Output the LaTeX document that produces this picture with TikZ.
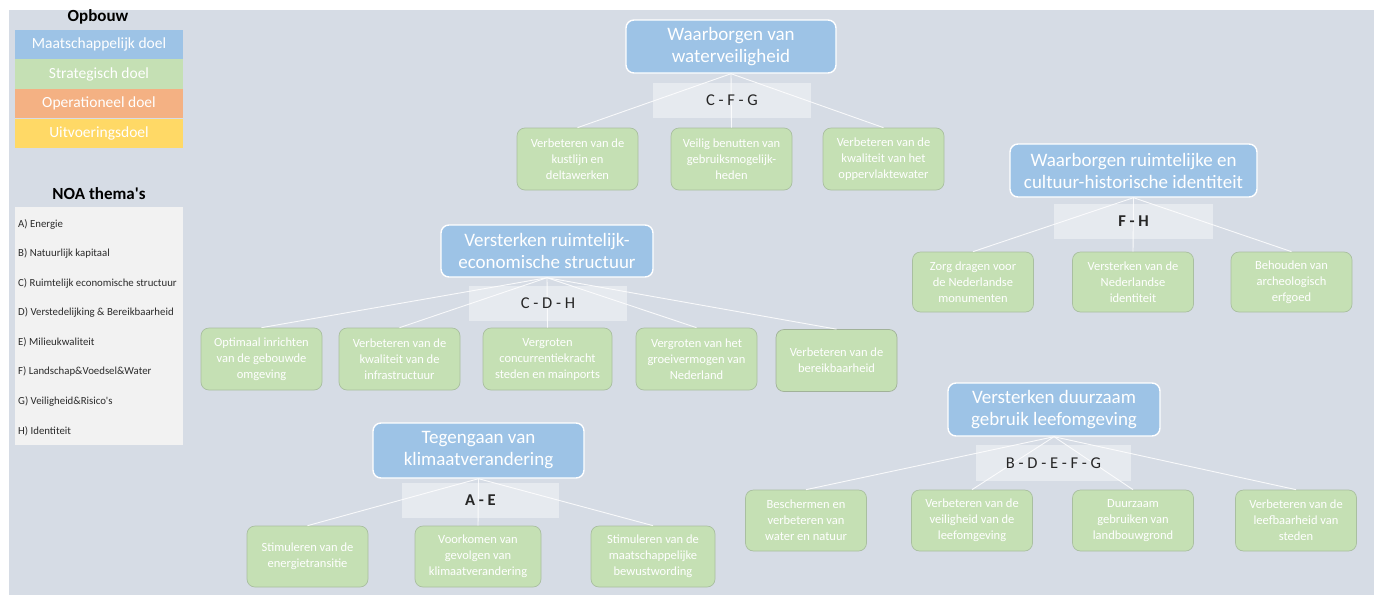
\documentclass[tikz,border=0pt]{standalone}
\usepackage{fontspec}
\setmainfont{Carlito}[Ligatures=TeXOff]
\definecolor{bgcol}{HTML}{D6DCE5}
\definecolor{goalblue}{HTML}{9DC3E6}
\definecolor{subgreen}{HTML}{C5E0B4}
\definecolor{subedge}{HTML}{A9BFA0}
\definecolor{oporange}{HTML}{F4B183}
\definecolor{execyellow}{HTML}{FFD966}
\definecolor{listgray}{HTML}{F2F2F2}
\definecolor{tagtext}{HTML}{262626}
\definecolor{listtext}{HTML}{2B2B2B}
\begin{document}
\begin{tikzpicture}[x=1pt,y=-1pt,
  goal/.style={draw=white, line width=1.4pt, fill=goalblue, rounded corners=8pt,
    text=white, font=\fontsize{19}{22}\selectfont, align=center, inner sep=0pt},
  sub/.style={draw=subedge, line width=0.7pt, fill=subgreen, rounded corners=8pt,
    text=white, font=\fontsize{12.5}{16}\selectfont, align=center,
    minimum width=121pt, minimum height=62pt, inner sep=0pt},
  tag/.style={fill=white, fill opacity=0.4, text opacity=1, text=tagtext,
    font=\fontsize{16.5}{18}\selectfont, minimum height=35pt, inner sep=0pt},
  link/.style={draw=white, line width=0.9pt, opacity=0.85},
  legbox/.style={minimum width=168pt, minimum height=29.5pt, inner sep=0pt,
    text=white, font=\fontsize{15.5}{17}\selectfont},
  head/.style={font=\bfseries\fontsize{17}{19}\selectfont, text=black},
  theme/.style={anchor=west, inner sep=0pt, text=listtext, font=\fontsize{10.8}{12}\selectfont},
]
\useasboundingbox (0,0) rectangle (1374,595);
\fill[white] (0,0) rectangle (1374,595);
\fill[bgcol] (9,10) rectangle (1374,595);

% ---- legend: levels of goals ----
\node[head] (opbouw) at (98,17) {Opbouw};
\node[legbox, fill=goalblue] (lvl1) at (99,44.5) {Maatschappelijk doel};
\node[legbox, fill=subgreen] (lvl2) at (99,74) {Strategisch doel};
\node[legbox, fill=oporange] (lvl3) at (99,103.5) {Operationeel doel};
\node[legbox, fill=execyellow] (lvl4) at (99,133.5) {Uitvoeringsdoel};

% ---- legend: themes ----
\node[head] (noa) at (99,194) {NOA thema's};
\node[fill=listgray, minimum width=168pt, minimum height=238pt, inner sep=0pt] (themes) at (99,326) {};
\node[theme] (thA) at (18,224) {A) Energie};
\node[theme] (thB) at (18,253.5) {B) Natuurlijk kapitaal};
\node[theme] (thC) at (18,283) {C) Ruimtelijk economische structuur};
\node[theme] (thD) at (18,312.5) {D) Verstedelijking \& Bereikbaarheid};
\node[theme] (thE) at (18,342) {E) Milieukwaliteit};
\node[theme] (thF) at (18,371.5) {F) Landschap\&Voedsel\&Water};
\node[theme] (thG) at (18,401) {G) Veiligheid\&Risico's};
\node[theme] (thH) at (18,431) {H) Identiteit};

% ---- goal 1: water safety ----
\node[goal, minimum width=210pt, minimum height=53pt] (g1) at (731,46.5) {Waarborgen van\\waterveiligheid};
\node[sub] (g1a) at (577.5,159) {Verbeteren van de\\kustlijn en\\deltawerken};
\node[sub] (g1b) at (731.5,159) {Veilig benutten van\\gebruiksmogelijk-\\heden};
\node[sub] (g1c) at (883.5,159) {Verbeteren van de\\kwaliteit van het\\oppervlaktewater};

% ---- goal 2: spatial and cultural identity ----
\node[goal, minimum width=247pt, minimum height=53pt] (g2) at (1133.5,170.5) {Waarborgen ruimtelijke en\\cultuur-historische identiteit};
\node[sub, minimum height=60pt] (g2a) at (973,282) {Zorg dragen voor\\de Nederlandse\\monumenten};
\node[sub, minimum height=60pt] (g2b) at (1133,282) {Versterken van de\\Nederlandse\\identiteit};
\node[sub, minimum height=60pt] (g2c) at (1291.5,282) {Behouden van\\archeologisch\\erfgoed};

% ---- goal 3: spatial-economic structure ----
\node[goal, minimum width=212pt, minimum height=52pt] (g3) at (547,251) {Versterken ruimtelijk-\\economische structuur};
\node[sub] (g3a) at (261.5,359) {Optimaal inrichten\\van de gebouwde\\omgeving};
\node[sub] (g3b) at (399.5,359) {Verbeteren van de\\kwaliteit van de\\infrastructuur};
\node[sub, minimum width=129pt] (g3c) at (547.5,359) {Vergroten\\concurrentiekracht\\steden en mainports};
\node[sub] (g3d) at (696.5,359) {Vergroten van het\\groeivermogen van\\Nederland};
\node[sub, draw=subedge!80!gray] (g3e) at (836.5,360.5) {Verbeteren van de\\bereikbaarheid};

% ---- goal 4: climate change ----
\node[goal, minimum width=211pt, minimum height=55pt] (g4) at (478.5,450.5) {Tegengaan van\\klimaatverandering};
\node[sub, minimum height=61pt] (g4a) at (307.5,556.5) {Stimuleren van de\\energietransitie};
\node[sub, minimum width=126pt, minimum height=61pt] (g4b) at (478,556.5) {Voorkomen van\\gevolgen van\\klimaatverandering};
\node[sub, minimum width=124pt, minimum height=61pt] (g4c) at (653,556.5) {Stimuleren van de\\maatschappelijke\\bewustwording};

% ---- goal 5: sustainable living environment ----
\node[goal, minimum width=212pt, minimum height=53pt] (g5) at (1054,409.5) {Versterken duurzaam\\gebruik leefomgeving};
\node[sub, minimum height=61pt] (g5a) at (806,520.5) {Beschermen en\\verbeteren van\\water en natuur};
\node[sub, minimum height=61pt] (g5b) at (972,520.5) {Verbeteren van de\\veiligheid van de\\leefomgeving};
\node[sub, minimum height=61pt] (g5c) at (1133,520.5) {Duurzaam\\gebruiken van\\landbouwgrond};
\node[sub, minimum height=61pt] (g5d) at (1296,520.5) {Verbeteren van de\\leefbaarheid van\\steden};

% ---- connectors ----
\foreach \p/\c in {g1/g1a,g1/g1b,g1/g1c,g2/g2a,g2/g2b,g2/g2c,
                   g3/g3a,g3/g3b,g3/g3c,g3/g3d,g3/g3e,
                   g4/g4a,g4/g4b,g4/g4c,g5/g5a,g5/g5b,g5/g5c,g5/g5d}
  \draw[link] (\p.south) -- (\c.north);

% ---- theme tags ----
\node[tag, minimum width=158pt] (t1) at (732,100.5) {C - F - G};
\node[tag, minimum width=159pt, font=\bfseries\fontsize{16.5}{18}\selectfont] (t2) at (1133.5,221.5) {F - H};
\node[tag, minimum width=158pt] (t3) at (548,303.5) {C - D - H};
\node[tag, minimum width=157pt, font=\bfseries\fontsize{16.5}{18}\selectfont] (t4) at (480.5,500.5) {A - E};
\node[tag, minimum width=155pt, minimum height=36pt] (t5) at (1053.5,463) {B - D - E - F - G};
\end{tikzpicture}
\end{document}
